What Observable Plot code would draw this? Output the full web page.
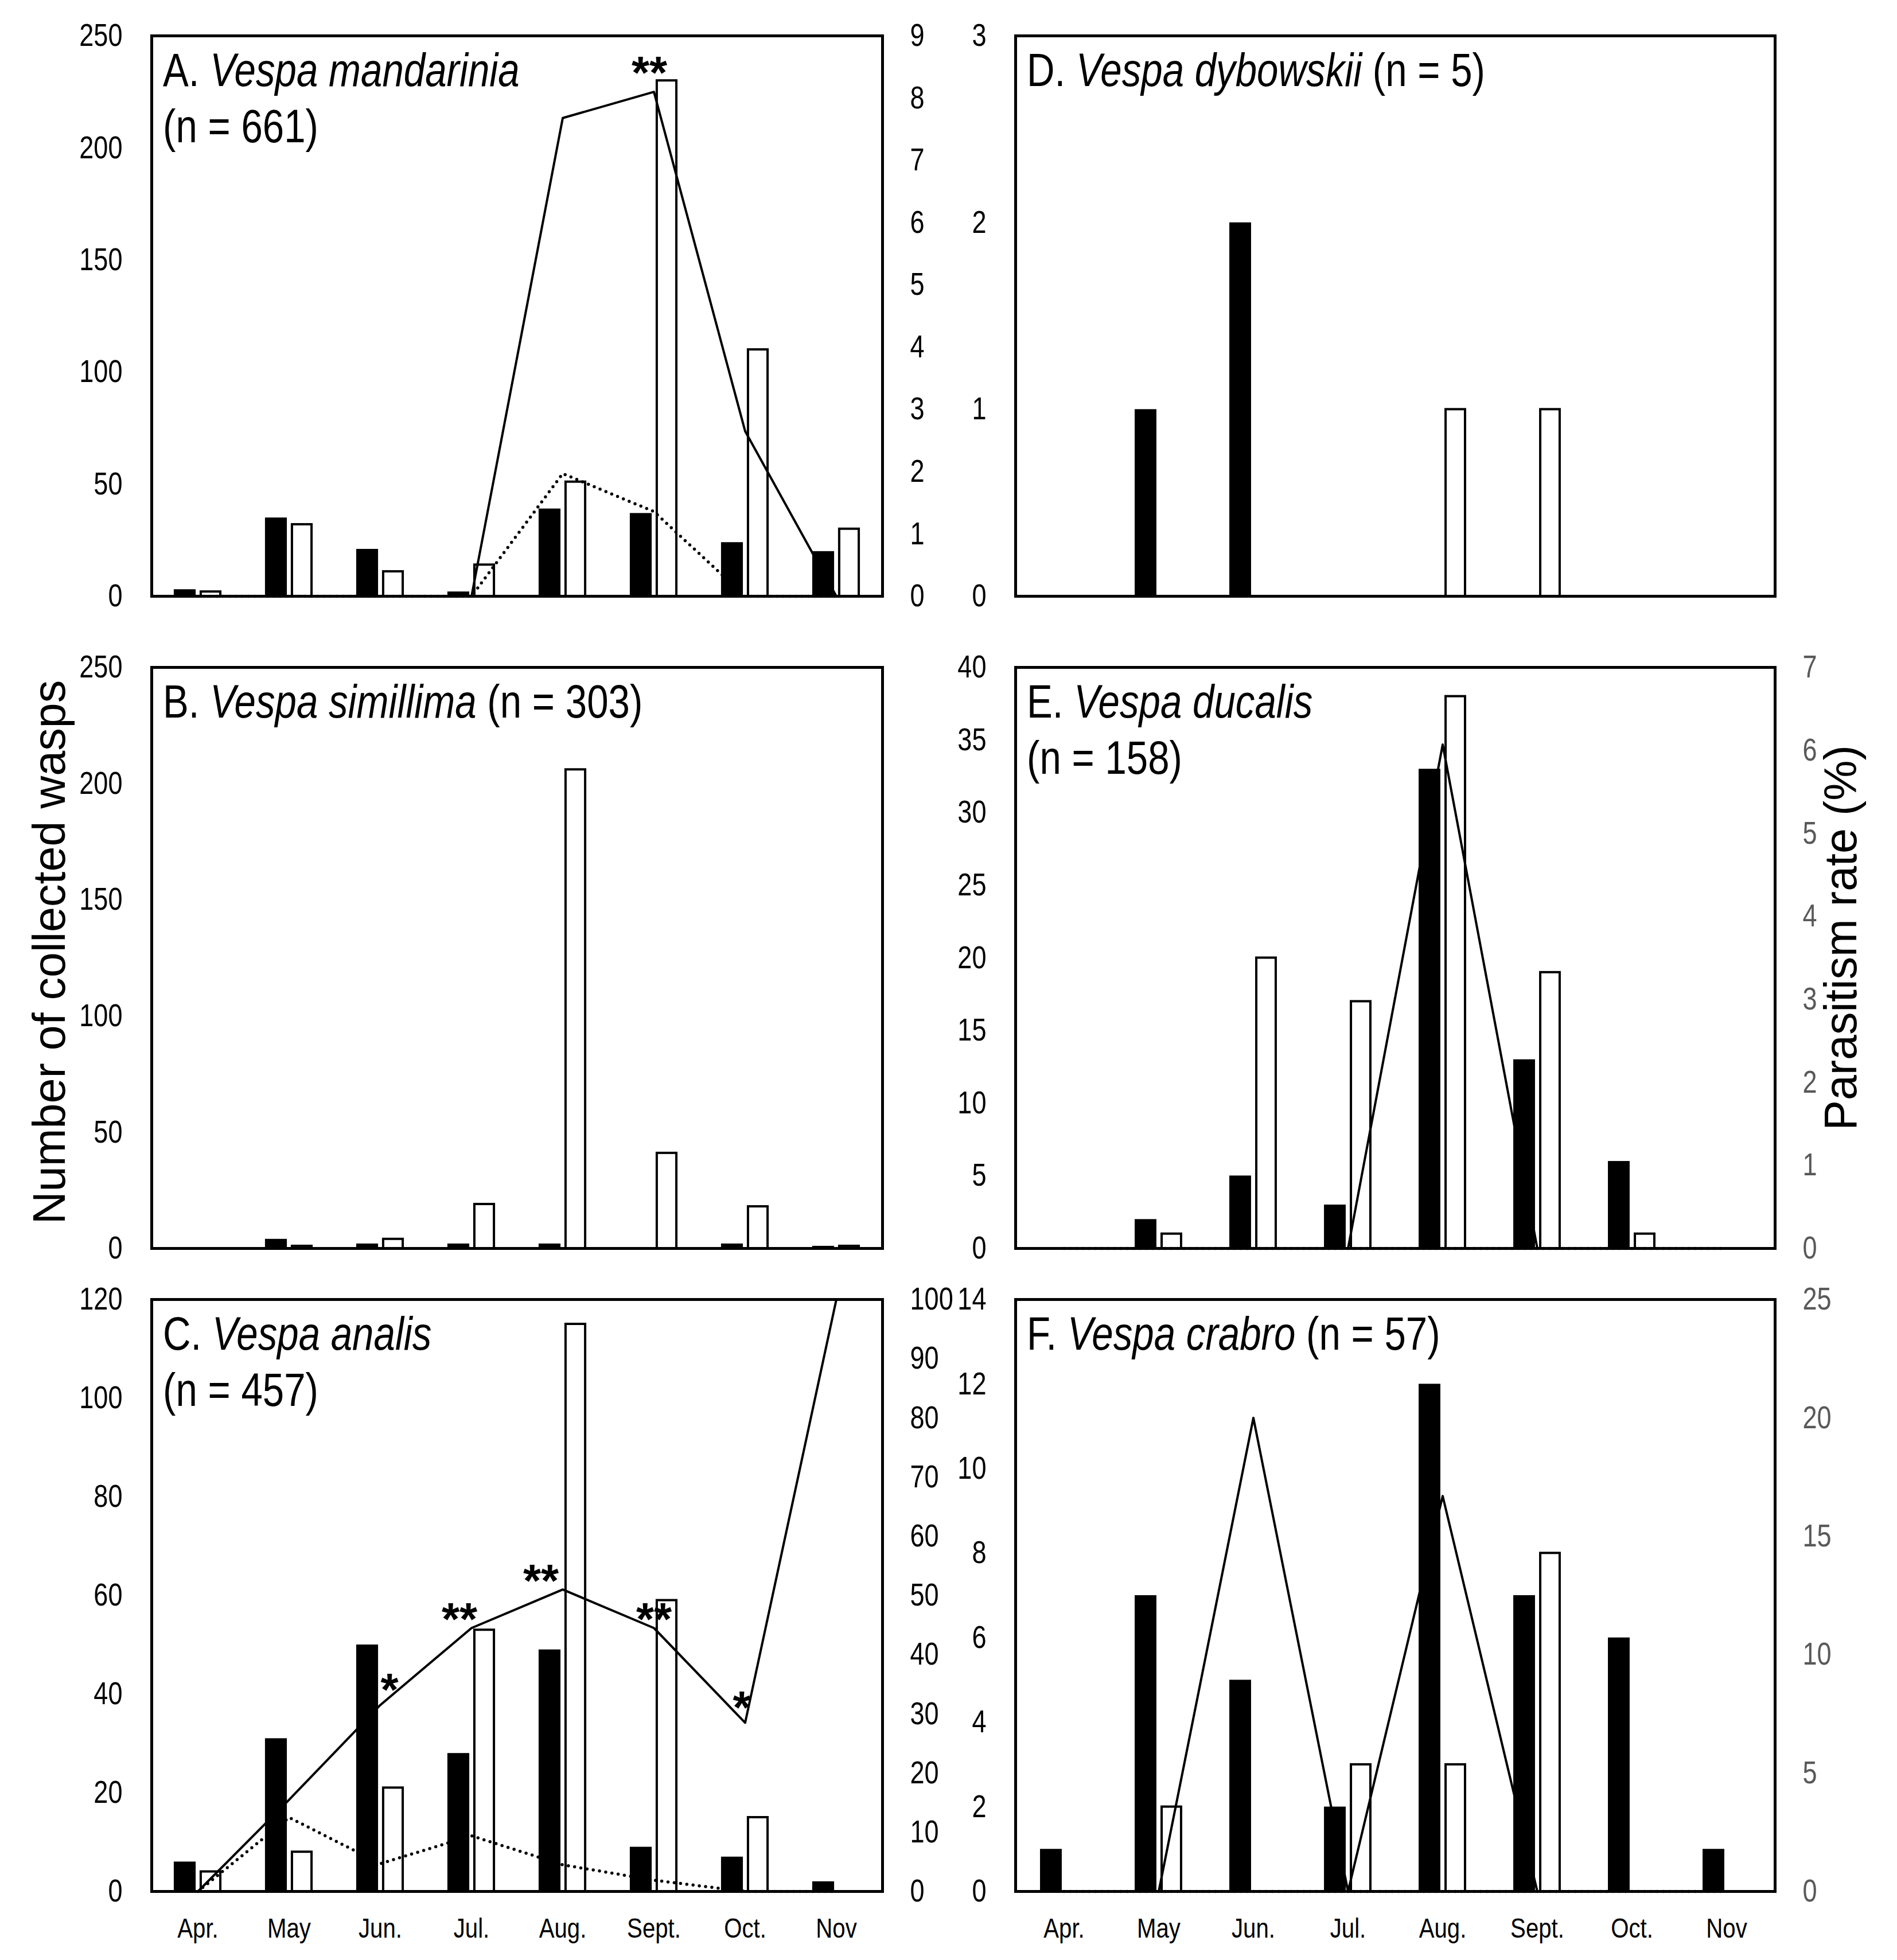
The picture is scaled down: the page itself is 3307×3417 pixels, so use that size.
<!DOCTYPE html>
<html>
<head>
<meta charset="utf-8">
<script src="https://cdn.jsdelivr.net/npm/d3@7"></script>
<script src="https://cdn.jsdelivr.net/npm/@observablehq/plot@0.6"></script>
<style>
  body { margin: 0; background: #fff; }
  #fig { position: relative; width: 3307px; height: 3417px; background: #fff; overflow: hidden; }
  #fig > div { position: absolute; }
</style>
</head>
<body>
<div id="fig"></div>
<script>
// months on the x axis
const months = ["Apr.", "May", "Jun.", "Jul.", "Aug.", "Sept.", "Oct.", "Nov"];

// A. Vespa mandarinia
const blackA = [3, 35, 21, 2, 39, 37, 24, 20];
const whiteA = [2, 32, 11, 14, 51, 230, 110, 30];
const rateA  = [0, 0, 0, 0, 7.68, 8.1, 2.65, 0];
const dotA   = [0, 0, 0, 0, 1.97, 1.36, 0, 0];
const starsA = [["Sept.", "**"]];

// B. Vespa simillima
const blackB = [0, 4, 2, 2, 2, 0, 2, 1];
const whiteB = [0, 1, 4, 19, 206, 41, 18, 1];

// C. Vespa analis
const blackC = [6, 31, 50, 28, 49, 9, 7, 2];
const whiteC = [4, 8, 21, 53, 115, 59, 15, 0];
const rateC  = [0, 15.5, 31.5, 44.5, 51, 44.5, 28.5, 100];
const dotC   = [0, 12.5, 4.7, 9.4, 4.5, 1.9, 0, 0];
const starsC = [["Jun.", "*"], ["Jul.", "**"], ["Aug.", "**"], ["Sept.", "**"], ["Oct.", "*"]];

// D. Vespa dybowskii
const blackD = [0, 1, 2, 0, 0, 0, 0, 0];
const whiteD = [0, 0, 0, 0, 1, 1, 0, 0];

// E. Vespa ducalis
const blackE = [0, 2, 5, 3, 33, 13, 6, 0];
const whiteE = [0, 1, 20, 17, 38, 19, 1, 0];
const rateE  = [0, 0, 0, 0, 6.07, 0, 0, 0];
const dotE   = [0, 0, 0, 0, 0, 0, 0, 0];

// F. Vespa crabro
const blackF = [1, 7, 5, 2, 12, 7, 6, 1];
const whiteF = [0, 2, 0, 3, 3, 8, 0, 0];
const rateF  = [0, 0, 20, 0, 16.7, 0, 0, 0];
const dotF   = [0, 0, 0, 0, 0, 0, 0, 0];

const SANS = "'Liberation Sans', Arial, sans-serif";
const NARROW_X = 0.82; // no Arial Narrow here: squeeze Liberation Sans instead

const rowsPos = [{top: 62, bottom: 1039}, {top: 1163, bottom: 2176}, {top: 2265, bottom: 3297}];
const colsPos = [{left: 264, right: 1538, ml: 150, mr: 130}, {left: 1770, right: 3094, ml: 110, mr: 130}];

const fig = d3.select("#fig");

// squeeze a text element horizontally around its own anchor point
function narrow(el) {
  const s = d3.select(el);
  const tr = s.attr("transform") || "";
  s.attr("transform", `${tr} scale(${NARROW_X},1)`);
}

function panel(o) {
  const col = colsPos[o.col], row = rowsPos[o.row];
  const fw = col.right - col.left, fh = row.bottom - row.top;
  const mt = 60, mb = o.xAxis ? 130 : 60;
  const k = o.rMax ? o.yMax / o.rMax : 1;
  const bw = fw / months.length;
  const data = months.map((m, i) => ({
    month: m,
    black: o.black[i],
    white: o.white[i],
    rate: o.rate ? o.rate[i] : 0,
    dot: o.dot ? o.dot[i] : 0
  }));

  const marks = [
    Plot.barY(data.filter(d => d.black > 0), {
      x: "month", y: "black", fill: "black",
      insetLeft: bw / 2 - 41.7, insetRight: bw / 2 + 3.3
    }),
    Plot.barY(data.filter(d => d.white > 0), {
      x: "month", y: "white", fill: "white", stroke: "black", strokeWidth: 4,
      insetLeft: bw / 2 + 5.3, insetRight: bw / 2 - 39.7
    }),
    Plot.frame({stroke: "black", strokeWidth: 5})
  ];
  if (o.rate) marks.push(Plot.line(data, {x: "month", y: d => d.rate * k, stroke: "black", strokeWidth: 4}));
  if (o.dot) marks.push(Plot.line(data, {
    x: "month", y: d => d.dot * k, stroke: "black", strokeWidth: 5.5,
    strokeDasharray: "0 11", strokeLinecap: "round"
  }));
  if (o.stars) {
    // significance marks sit just above the solid line, a few nudged sideways
    for (const s of o.stars) {
      marks.push(Plot.text([s], {
        x: d => d[0], y: d => o.rate[months.indexOf(d[0])] * k, text: d => d[1],
        dx: (o.starDx && o.starDx[s[0]]) || 0,
        dy: s[1] === "*" ? -25 : o.starDy,
        fontSize: 80, fontWeight: "bold", fontFamily: SANS, fill: "black"
      }));
    }
  }
  marks.push(Plot.axisY({
    anchor: "left", ticks: d3.range(0, o.yMax + o.yStep / 2, o.yStep), tickFormat: d => String(d),
    tickSize: 0, tickPadding: 51, fontSize: 55, fontFamily: SANS, label: null, fill: "black"
  }));
  if (o.rMax) marks.push(Plot.axisY({
    anchor: "right", ticks: d3.range(0, o.rMax + o.rStep / 2, o.rStep).map(v => v * k),
    tickFormat: d => String(Math.round(d / k)), tickSize: 0, tickPadding: 48,
    fontSize: 55, fontFamily: SANS, label: null, fill: o.rFill
  }));
  if (o.xAxis) marks.push(Plot.axisX({
    anchor: "bottom", tickSize: 0, tickPadding: 46, fontSize: 49, fontFamily: SANS, label: null, fill: "black"
  }));

  const chart = Plot.plot({
    width: col.ml + fw + col.mr,
    height: mt + fh + mb,
    marginLeft: col.ml, marginRight: col.mr, marginTop: mt, marginBottom: mb,
    x: {type: "band", domain: months, padding: 0, ...(o.xAxis ? {} : {axis: null})},
    y: {domain: [0, o.yMax]},
    style: {background: "transparent", overflow: "visible", fontFamily: SANS, color: "black"},
    marks
  });

  const svg = d3.select(chart);
  svg.selectAll("[aria-label*='tick label'] text").each(function() { narrow(this); });

  // panel heading: letter, italic species name, sample size
  const head = svg.append("g")
    .attr("transform", `translate(${col.ml + 20},0) scale(${NARROW_X},1)`)
    .attr("font-family", SANS).attr("font-size", 82).attr("fill", "black")
    .attr("text-anchor", "start");
  const t = head.append("text").attr("y", mt + 88);
  t.append("tspan").text(o.letter + " ");
  t.append("tspan").attr("font-style", "italic").text(o.species);
  if (o.twoLines) {
    head.append("text").attr("y", mt + 186).text(o.n);
  } else {
    t.append("tspan").text(" " + o.n);
  }

  fig.append("div")
    .style("left", (col.left - col.ml) + "px")
    .style("top", (row.top - mt) + "px")
    .node().appendChild(chart);
}

panel({col: 0, row: 0, black: blackA, white: whiteA, rate: rateA, dot: dotA,
  stars: starsA, starDy: -32, starDx: {"Sept.": -8},
  yMax: 250, yStep: 50, rMax: 9, rStep: 1, rFill: "black",
  letter: "A.", species: "Vespa mandarinia", n: "(n = 661)", twoLines: true});
panel({col: 0, row: 1, black: blackB, white: whiteB,
  yMax: 250, yStep: 50,
  letter: "B.", species: "Vespa simillima", n: "(n = 303)", twoLines: false});
panel({col: 0, row: 2, black: blackC, white: whiteC, rate: rateC, dot: dotC,
  stars: starsC, starDy: -14, starDx: {"Jun.": 16, "Jul.": -21, "Aug.": -38, "Oct.": -6},
  yMax: 120, yStep: 20, rMax: 100, rStep: 10, rFill: "black",
  letter: "C.", species: "Vespa analis", n: "(n = 457)", twoLines: true, xAxis: true});
panel({col: 1, row: 0, black: blackD, white: whiteD,
  yMax: 3, yStep: 1,
  letter: "D.", species: "Vespa dybowskii", n: "(n = 5)", twoLines: false});
panel({col: 1, row: 1, black: blackE, white: whiteE, rate: rateE, dot: dotE,
  yMax: 40, yStep: 5, rMax: 7, rStep: 1, rFill: "#595959",
  letter: "E.", species: "Vespa ducalis", n: "(n = 158)", twoLines: true});
panel({col: 1, row: 2, black: blackF, white: whiteF, rate: rateF, dot: dotF,
  yMax: 14, yStep: 2, rMax: 25, rStep: 5, rFill: "#595959",
  letter: "F.", species: "Vespa crabro", n: "(n = 57)", twoLines: false, xAxis: true});

// shared axis titles
const over = fig.append("svg")
  .attr("width", 3307).attr("height", 3417)
  .style("position", "absolute").style("left", 0).style("top", 0)
  .style("pointer-events", "none");
over.append("text")
  .attr("transform", "translate(113,1660) rotate(-90)")
  .attr("text-anchor", "middle")
  .attr("font-family", SANS).attr("font-size", 79).attr("fill", "black")
  .text("Number of collected wasps");
over.append("text")
  .attr("transform", "translate(3236,1635) rotate(-90)")
  .attr("text-anchor", "middle")
  .attr("font-family", SANS).attr("font-size", 79).attr("fill", "black")
  .text("Parasitism rate (%)");
</script>
</body>
</html>
